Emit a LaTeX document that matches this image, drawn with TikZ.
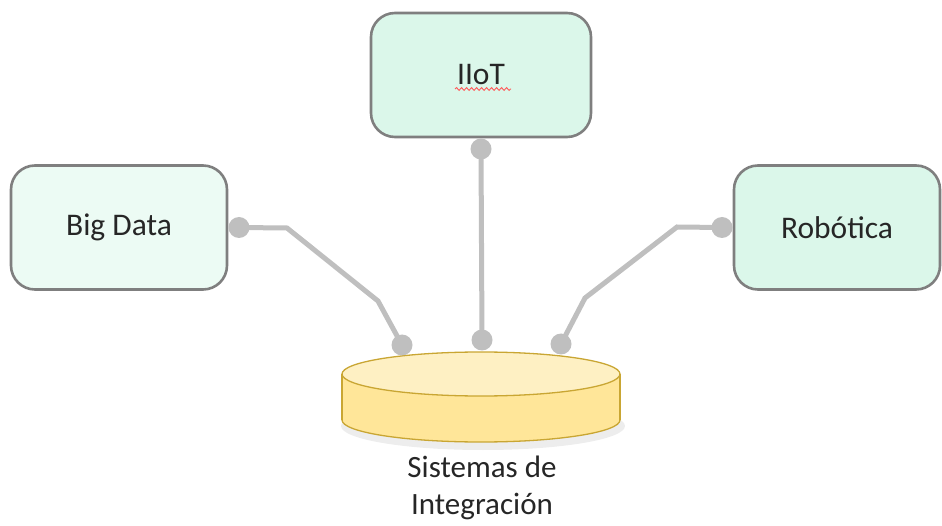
\documentclass[tikz,border=0pt]{standalone}
\usepackage{fontspec}
\setmainfont{Carlito}
\usetikzlibrary{positioning,decorations.pathmorphing}
\definecolor{boxline}{HTML}{7F7F7F}
\definecolor{mintA}{HTML}{ECFBF4}
\definecolor{mintB}{HTML}{DBF7EA}
\definecolor{plugray}{HTML}{BFBFBF}
\definecolor{dbtop}{HTML}{FEF0C3}
\definecolor{dbside}{HTML}{FFE699}
\definecolor{dbrim}{HTML}{C9A633}
\definecolor{ink}{HTML}{262626}

\begin{document}
\begin{tikzpicture}[x=1pt, y=-1pt,
	topic/.style={draw=boxline, line width=2.6pt, rounded corners=24pt, minimum height=124pt, text=ink, font=\fontsize{31.5}{36}\selectfont},
	plug/.style={circle, fill=plugray, inner sep=0pt, minimum size=21pt},
	wire/.style={draw=plugray, line width=5pt}]
		\useasboundingbox (0,0) rectangle (942,526);
		
		%topics
		\node[topic, fill=mintB, minimum width=220pt] (iiot) at (481,75) {IIoT};
		\node[topic, fill=mintA, minimum width=216pt] (bigdata) at (119,227.5) {Big Data};
		\node[topic, fill=mintB, minimum width=206pt] (robot) at (837,227.5) {Rob\'otica};
		\draw[red!65, line width=0.9pt, decorate, decoration={snake, amplitude=1.4pt, segment length=5pt}] (455,89) -- (511,89);
		
		%database
		\fill[black, opacity=0.07] (483,426) ellipse [x radius=142, y radius=24];
		\filldraw[fill=dbside, draw=dbrim, line width=1.3pt] (481,420) ellipse [x radius=139, y radius=22];
		\fill[dbside] (342,374) rectangle (620,420);
		\draw[dbrim, line width=1.3pt] (342,374) -- (342,420) (620,374) -- (620,420);
		\filldraw[fill=dbtop, draw=dbrim, line width=1.3pt] (481,374) ellipse [x radius=139, y radius=22];
		\node[align=center, anchor=north, inner sep=0pt, text=ink, font=\fontsize{31}{37}\selectfont] (dbname) at (482,456) {Sistemas de\\Integración};
		
		%plugs
		\node[plug, below=0pt of iiot] (ptop) {};
		\node[plug, right=0pt of bigdata] (pbig) {};
		\node[plug, left=0pt of robot] (prob) {};
		\node[plug] (dbleft) at (402,345) {};
		\node[plug] (dbmid) at (482,340) {};
		\node[plug] (dbright) at (561,344) {};
		
		%wires
		\draw[wire] (ptop.center) -- (dbmid.center);
		\draw[wire] (pbig.center) -- (287,228) -- (378,301) -- (dbleft.center);
		\draw[wire] (prob.center) -- (677,227) -- (585,298) -- (dbright.center);
\end{tikzpicture}
\end{document}
